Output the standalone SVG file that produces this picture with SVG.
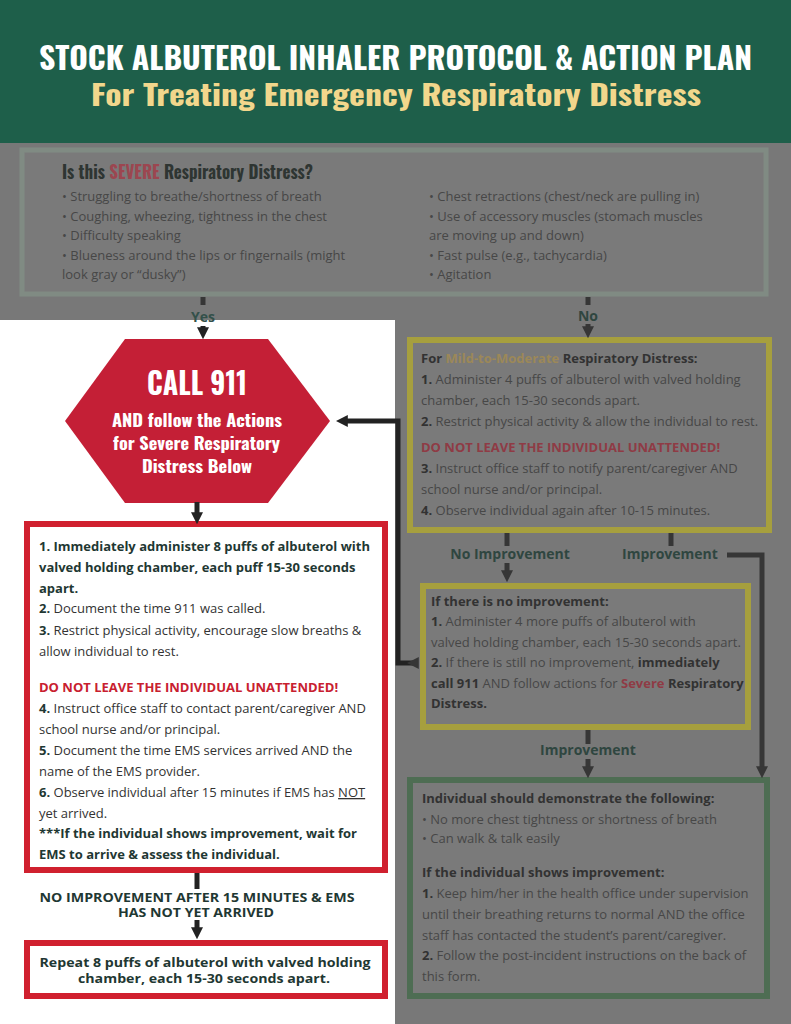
<svg xmlns="http://www.w3.org/2000/svg" width="791" height="1024" viewBox="0 0 791 1024">
<style>
.hd{font-family:'Oswald','Liberation Sans Narrow','DejaVu Sans Condensed',sans-serif;font-weight:bold}
.t{font-family:'Open Sans','Liberation Sans',sans-serif;font-size:13px}
.b{font-weight:bold}
.dk{fill:#1f3833}
.rg{fill:#333333}
.red{fill:#c8202f}
.gt{fill:#474747}
.gb{fill:#323232}
.gred{fill:#8f3b45}
.lab{font-family:'Open Sans','Liberation Sans',sans-serif;font-size:14px;font-weight:bold;text-anchor:middle}
.cw{fill:none;stroke:#222222;stroke-width:5}
.cg{fill:none;stroke:#363636;stroke-width:5}
</style>
<defs>
<marker id="aw" viewBox="0 0 10 10" refX="4" refY="5" markerWidth="2.4" markerHeight="2.4" orient="auto" markerUnits="strokeWidth"><path d="M0,0 L10,5 L0,10 z" fill="#222222"/></marker>
<marker id="ag" viewBox="0 0 10 10" refX="4" refY="5" markerWidth="2.4" markerHeight="2.4" orient="auto" markerUnits="strokeWidth"><path d="M0,0 L10,5 L0,10 z" fill="#363636"/></marker>
</defs>

<!-- backgrounds -->
<rect x="0" y="0" width="791" height="1024" fill="#787878"/>
<rect x="0" y="320" width="395" height="704" fill="#ffffff"/>

<g id="header">
<rect x="0" y="0" width="791" height="143" fill="#1e5f4a"/>
<text class="hd" x="39" y="70" font-size="31" fill="#ffffff" textLength="713" lengthAdjust="spacingAndGlyphs">STOCK ALBUTEROL INHALER PROTOCOL &amp; ACTION PLAN</text>
<text class="hd" x="91" y="106" font-size="28" fill="#f2d78c" textLength="610" lengthAdjust="spacingAndGlyphs">For Treating Emergency Respiratory Distress</text>
</g>

<g id="question">
<rect x="22" y="150" width="744" height="144" fill="#7a7a7a" stroke="#808b83" stroke-width="5"/>
<text class="hd" x="62" y="179" font-size="19" fill="#2e3532" textLength="251" lengthAdjust="spacingAndGlyphs">Is this <tspan fill="#9c4650">SEVERE</tspan> Respiratory Distress?</text>
<text class="t gt" x="62" y="201">• Struggling to breathe/shortness of breath</text>
<text class="t gt" x="62" y="221">• Coughing, wheezing, tightness in the chest</text>
<text class="t gt" x="62" y="240">• Difficulty speaking</text>
<text class="t gt" x="62" y="260">• Blueness around the lips or fingernails (might</text>
<text class="t gt" x="62" y="279">look gray or “dusky”)</text>
<text class="t gt" x="429" y="201">• Chest retractions (chest/neck are pulling in)</text>
<text class="t gt" x="429" y="221">• Use of accessory muscles (stomach muscles</text>
<text class="t gt" x="429" y="240">are moving up and down)</text>
<text class="t gt" x="429" y="260">• Fast pulse (e.g., tachycardia)</text>
<text class="t gt" x="429" y="279">• Agitation</text>
</g>

<g id="call911">
<polygon points="125,339 268,339 330,421 268,503 125,503 65,421" fill="#c41f36"/>
<text class="hd" x="147" y="395" font-size="31" fill="#ffffff" textLength="100" lengthAdjust="spacingAndGlyphs">CALL 911</text>
<text class="hd" x="112" y="427" font-size="17" fill="#ffffff" textLength="170" lengthAdjust="spacingAndGlyphs">AND follow the Actions</text>
<text class="hd" x="113" y="450" font-size="17" fill="#ffffff" textLength="167" lengthAdjust="spacingAndGlyphs">for Severe Respiratory</text>
<text class="hd" x="142" y="473" font-size="17" fill="#ffffff" textLength="110" lengthAdjust="spacingAndGlyphs">Distress Below</text>
</g>

<g id="severe-actions">
<rect x="27" y="524" width="358" height="346" fill="#ffffff" stroke="#d0202f" stroke-width="6"/>
<text class="t b dk" x="39" y="551">1. Immediately administer 8 puffs of albuterol with</text>
<text class="t b dk" x="39" y="572">valved holding chamber, each puff 15-30 seconds</text>
<text class="t b dk" x="39" y="593">apart.</text>
<text class="t rg" x="39" y="613"><tspan class="b dk">2.</tspan> Document the time 911 was called.</text>
<text class="t rg" x="39" y="635"><tspan class="b dk">3.</tspan> Restrict physical activity, encourage slow breaths &amp;</text>
<text class="t rg" x="39" y="656">allow individual to rest.</text>
<text class="t b red" x="39" y="692">DO NOT LEAVE THE INDIVIDUAL UNATTENDED!</text>
<text class="t rg" x="39" y="713"><tspan class="b dk">4.</tspan> Instruct office staff to contact parent/caregiver AND</text>
<text class="t rg" x="39" y="734">school nurse and/or principal.</text>
<text class="t rg" x="39" y="755"><tspan class="b dk">5.</tspan> Document the time EMS services arrived AND the</text>
<text class="t rg" x="39" y="776">name of the EMS provider.</text>
<text class="t rg" x="39" y="797"><tspan class="b dk">6.</tspan> Observe individual after 15 minutes if EMS has <tspan style="text-decoration:underline">NOT</tspan></text>
<text class="t rg" x="39" y="818">yet arrived.</text>
<text class="t b dk" x="39" y="838">***If the individual shows improvement, wait for</text>
<text class="t b dk" x="39" y="859">EMS to arrive &amp; assess the individual.</text>
</g>

<g id="no-improvement-label">
<text class="t b dk" x="197" y="902" text-anchor="middle" font-size="14" textLength="315" lengthAdjust="spacingAndGlyphs">NO IMPROVEMENT AFTER 15 MINUTES &amp; EMS</text>
<text class="t b dk" x="196" y="917" text-anchor="middle" font-size="14" textLength="156" lengthAdjust="spacingAndGlyphs">HAS NOT YET ARRIVED</text>
</g>

<g id="repeat">
<rect x="27" y="943" width="358" height="53" fill="#ffffff" stroke="#d0202f" stroke-width="6"/>
<text class="t b dk" x="205" y="967" text-anchor="middle" font-size="15" textLength="331" lengthAdjust="spacingAndGlyphs">Repeat 8 puffs of albuterol with valved holding</text>
<text class="t b dk" x="204" y="983" text-anchor="middle" font-size="15" textLength="252" lengthAdjust="spacingAndGlyphs">chamber, each 15-30 seconds apart.</text>
</g>

<g id="mild">
<rect x="410" y="340" width="359" height="190" fill="#7a7a7a" stroke="#a69f3e" stroke-width="6"/>
<text class="t b gb" x="421" y="363">For <tspan fill="#9c8858">Mild-to-Moderate</tspan> Respiratory Distress:</text>
<text class="t gt" x="421" y="384"><tspan class="b gb">1.</tspan> Administer 4 puffs of albuterol with valved holding</text>
<text class="t gt" x="421" y="405">chamber, each 15-30 seconds apart.</text>
<text class="t gt" x="421" y="426"><tspan class="b gb">2.</tspan> Restrict physical activity &amp; allow the individual to rest.</text>
<text class="t b gred" x="421" y="452">DO NOT LEAVE THE INDIVIDUAL UNATTENDED!</text>
<text class="t gt" x="421" y="473"><tspan class="b gb">3.</tspan> Instruct office staff to notify parent/caregiver AND</text>
<text class="t gt" x="421" y="494">school nurse and/or principal.</text>
<text class="t gt" x="421" y="515"><tspan class="b gb">4.</tspan> Observe individual again after 10-15 minutes.</text>
</g>

<g id="no-improvement">
<rect x="423" y="586" width="325" height="141" fill="#7a7a7a" stroke="#a69f3e" stroke-width="6"/>
<text class="t b gb" x="431" y="606" font-size="16">If there is no improvement:</text>
<text class="t gt" x="431" y="626"><tspan class="b gb">1.</tspan> Administer 4 more puffs of albuterol with</text>
<text class="t gt" x="431" y="647">valved holding chamber, each 15-30 seconds apart.</text>
<text class="t gt" x="431" y="667"><tspan class="b gb">2.</tspan> If there is still no improvement, <tspan class="b gb">immediately</tspan></text>
<text class="t gt" x="431" y="688"><tspan class="b gb">call 911</tspan> AND follow actions for <tspan class="b gred">Severe</tspan> <tspan class="b gb">Respiratory</tspan></text>
<text class="t b gb" x="431" y="708">Distress.</text>
</g>

<g id="improvement">
<rect x="410" y="780" width="357" height="216" fill="#7a7a7a" stroke="#4e6d53" stroke-width="6"/>
<text class="t b gb" x="422" y="803">Individual should demonstrate the following:</text>
<text class="t gt" x="422" y="824">• No more chest tightness or shortness of breath</text>
<text class="t gt" x="422" y="843">• Can walk &amp; talk easily</text>
<text class="t b gb" x="422" y="877">If the individual shows improvement:</text>
<text class="t gt" x="422" y="898"><tspan class="b gb">1.</tspan> Keep him/her in the health office under supervision</text>
<text class="t gt" x="422" y="919">until their breathing returns to normal AND the office</text>
<text class="t gt" x="422" y="940">staff has contacted the student’s parent/caregiver.</text>
<text class="t gt" x="422" y="960"><tspan class="b gb">2.</tspan> Follow the post-incident instructions on the back of</text>
<text class="t gt" x="422" y="981">this form.</text>
</g>

<g id="connectors">
<line class="cg" x1="203" y1="297" x2="203" y2="305"/>
<line class="cw" x1="203" y1="326" x2="203" y2="332" marker-end="url(#aw)"/>
<line class="cg" x1="588" y1="297" x2="588" y2="305"/>
<line class="cg" x1="588" y1="324" x2="588" y2="331" marker-end="url(#ag)"/>
<line class="cw" x1="197" y1="502" x2="197" y2="517" marker-end="url(#aw)"/>
<line class="cw" x1="197" y1="873" x2="197" y2="889"/>
<line class="cw" x1="197" y1="920" x2="197" y2="932" marker-end="url(#aw)"/>
<line class="cg" x1="507" y1="533" x2="507" y2="546"/>
<line class="cg" x1="671" y1="533" x2="671" y2="546"/>
<line class="cg" x1="507" y1="563" x2="507" y2="575" marker-end="url(#ag)"/>
<polyline class="cg" points="727,555 762,555 762,771" marker-end="url(#ag)"/>
<line class="cg" x1="588" y1="730" x2="588" y2="744"/>
<line class="cg" x1="588" y1="759" x2="588" y2="771" marker-end="url(#ag)"/>
<polyline class="cw" points="414,663 398,663 398,421 343,421" marker-start="url(#ag)" marker-end="url(#aw)"/>
<text class="lab" x="203" y="322" fill="#33504a">Yes</text>
<text class="lab" x="588" y="321" fill="#2f4640">No</text>
<text class="lab" x="510" y="559" fill="#2f4640">No Improvement</text>
<text class="lab" x="670" y="559" fill="#2f4640">Improvement</text>
<text class="lab" x="588" y="755" fill="#2f4640">Improvement</text>
</g>
</svg>
